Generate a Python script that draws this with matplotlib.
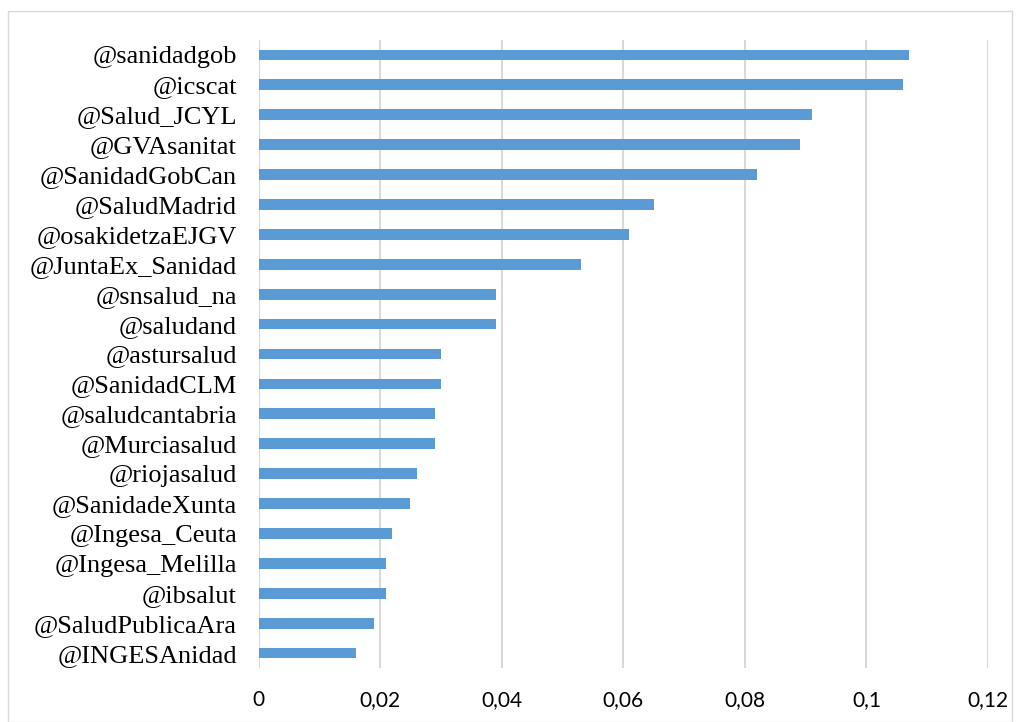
import matplotlib.pyplot as plt
from matplotlib.patches import Rectangle
from matplotlib.ticker import FuncFormatter

# cuentas ordenadas de mayor a menor
accounts = [
    "@sanidadgob", "@icscat", "@Salud_JCYL", "@GVAsanitat", "@SanidadGobCan",
    "@SaludMadrid", "@osakidetzaEJGV", "@JuntaEx_Sanidad", "@snsalud_na",
    "@saludand", "@astursalud", "@SanidadCLM", "@saludcantabria",
    "@Murciasalud", "@riojasalud", "@SanidadeXunta", "@Ingesa_Ceuta",
    "@Ingesa_Melilla", "@ibsalut", "@SaludPublicaAra", "@INGESAnidad",
]
values = [
    0.107, 0.106, 0.091, 0.089, 0.082,
    0.065, 0.061, 0.053, 0.039,
    0.039, 0.030, 0.030, 0.029,
    0.029, 0.026, 0.025, 0.022,
    0.021, 0.021, 0.019, 0.016,
]
xticks = [0, 0.02, 0.04, 0.06, 0.08, 0.1, 0.12]


def fmt(v, pos):
    s = ("%.2f" % v).rstrip("0").rstrip(".") if v != 0 else "0"
    return s.replace(".", ",")


def main():
    W, H = 1024, 722
    fig = plt.figure(figsize=(W / 100, H / 100), dpi=100)

    # marco del gráfico
    fig.patches.append(Rectangle((8 / W, 0), 1004 / W, 1 - 11 / H,
                                 transform=fig.transFigure, fill=False,
                                 edgecolor="#D9D9D9", linewidth=1))

    left, right = 258.5, 988
    top, bottom = 40, 668
    ax = fig.add_axes([left / W, 1 - bottom / H, (right - left) / W, (bottom - top) / H])

    y = list(range(len(accounts)))[::-1]
    ax.barh(y, values, height=0.36, color="#5B9BD5", zorder=3)

    ax.set_xlim(0, 0.12)
    ax.set_ylim(-0.5, len(accounts) - 0.5)
    ax.set_xticks(xticks)
    ax.xaxis.set_major_formatter(FuncFormatter(fmt))
    ax.set_yticks(y)
    ax.set_yticklabels(accounts, fontfamily="Liberation Serif", fontsize=19)
    for lbl in ax.get_xticklabels():
        lbl.set_fontfamily("Lato")
        lbl.set_fontsize(15)

    ax.grid(axis="x", color="#D9D9D9", linewidth=1.5, zorder=0)
    for sp in ax.spines.values():
        sp.set_visible(False)
    ax.tick_params(axis="both", length=0)
    ax.tick_params(axis="x", pad=16)
    ax.tick_params(axis="y", pad=15.5)

    fig.savefig("out.png", dpi=100)
    plt.close(fig)


if __name__ == "__main__":
    main()
